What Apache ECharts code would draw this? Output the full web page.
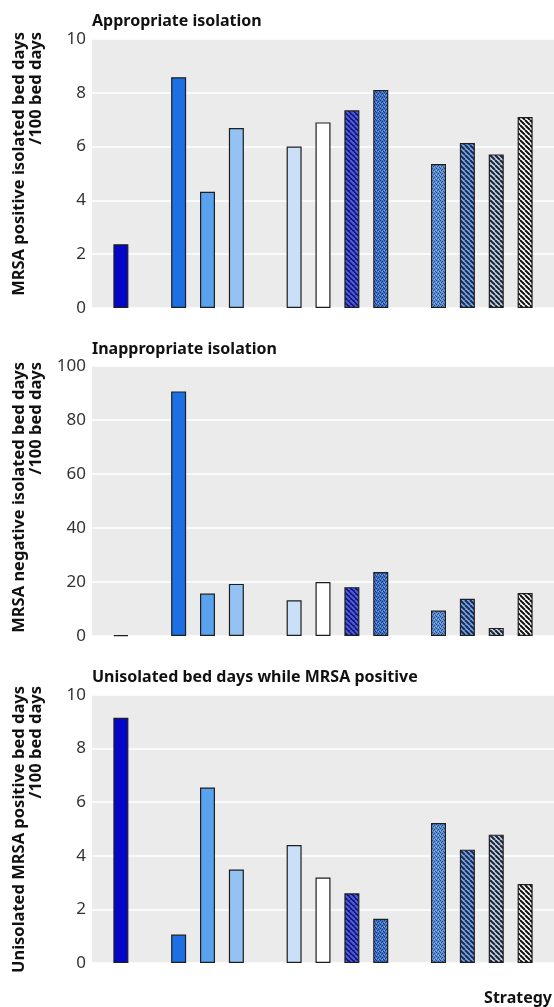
<!DOCTYPE html>
<html>
<head>
<meta charset="utf-8">
<script src="https://cdn.jsdelivr.net/npm/echarts@6/dist/echarts.min.js"></script>
<style>
html,body{margin:0;padding:0;background:#fff;}
#chart{width:554px;height:1007px;}
</style>
</head>
<body>
<div id="chart"></div>
<script>
// ---- data ----
const strategies = ['S1','S2','S3','S4','S5','S6','S7','S8','S9','S10','S11','S12'];
const appropriate = [2.37, 8.58, 4.32, 6.69, 6.00, 6.90, 7.35, 8.10, 5.35, 6.13, 5.71, 7.10];
const inappropriate = [0.3, 90.6, 15.7, 19.3, 13.2, 20.0, 18.1, 23.7, 9.4, 13.8, 3.0, 15.9];
const unisolated = [9.15, 1.06, 6.55, 3.49, 4.40, 3.19, 2.60, 1.65, 5.22, 4.23, 4.79, 2.95];
const panelTitles = ['Appropriate isolation', 'Inappropriate isolation', 'Unisolated bed days while MRSA positive'];
const yNames = [
  'MRSA positive isolated bed days\n/100 bed days',
  'MRSA negative isolated bed days\n/100 bed days',
  'Unisolated MRSA positive bed days\n/100 bed days'
];
const yMax = [10, 100, 10];
const yStep = [2, 20, 2];
const xAxisName = 'Strategy';

// ---- layout: strategy groups separated by empty slots ----
const groupSizes = [1, 3, 4, 4];
const slots = [];
(function(){
  let k = 0, g = 0;
  slots.push('gap' + (g++));
  groupSizes.forEach(n => {
    for (let i = 0; i < n; i++) slots.push(strategies[k++]);
    slots.push('gap' + (g++));
  });
})();

// ---- fills ----
function tile(size, draw) {
  const c = document.createElement('canvas');
  c.width = c.height = size;
  const ctx = c.getContext('2d');
  draw(ctx, size);
  return { image: c, repeat: 'repeat' };
}
function stripes(bg, fg, s, w) {
  return tile(s, (ctx) => {
    ctx.fillStyle = bg; ctx.fillRect(0, 0, s, s);
    ctx.strokeStyle = fg; ctx.lineWidth = w;
    for (let x0 = -s; x0 <= s; x0 += s) {
      ctx.beginPath(); ctx.moveTo(x0, 0); ctx.lineTo(x0 + s, s); ctx.stroke();
    }
  });
}
function stipple(bg, dark, light) {
  return tile(4, (ctx) => {
    ctx.fillStyle = bg; ctx.fillRect(0, 0, 4, 4);
    ctx.fillStyle = dark;
    [[0,0],[2,1],[1,2],[3,3]].forEach(p => ctx.fillRect(p[0], p[1], 1, 1));
    ctx.fillStyle = light;
    [[2,3],[0,2]].forEach(p => ctx.fillRect(p[0], p[1], 1, 1));
  });
}
const fills = [
  '#0606c8',
  '#1c70e4',
  '#59a2ee',
  '#93c2f3',
  '#c9e0f8',
  '#ffffff',
  stripes('#10107a', '#4f60d8', 5, 2),
  stipple('#3f74c8', '#1d3a78', '#7aa6e6'),
  stipple('#5d8fd4', '#2a4a80', '#8ab4ec'),
  stripes('#78aaea', '#1b2b55', 5, 2),
  stripes('#c4d6ee', '#1c2230', 5, 2),
  stripes('#ffffff', '#111111', 5, 2)
];

const series3 = [appropriate, inappropriate, unisolated];
const grids = [
  { left: 92, right: 0, top: 39, height: 269 },
  { left: 92, right: 0, top: 366, height: 270 },
  { left: 92, right: 0, top: 695, height: 268 }
];

function buildData(vals) {
  const map = {};
  strategies.forEach((s, i) => { map[s] = i; });
  return slots.map(name => {
    if (!(name in map)) return null;
    const i = map[name];
    return { value: vals[i], itemStyle: { color: fills[i] } };
  });
}

const font = '"Noto Sans", "DejaVu Sans", sans-serif';
const option = {
  animation: false,
  backgroundColor: '#ffffff',
  grid: grids.map(g => Object.assign({ show: true, backgroundColor: '#ebebeb', borderWidth: 0 }, g)),
  xAxis: grids.map((g, i) => ({
    type: 'category', gridIndex: i, data: slots, boundaryGap: false,
    axisLine: { show: false }, axisTick: { show: false }, axisLabel: { show: false },
    splitLine: { show: false }
  })),
  yAxis: grids.map((g, i) => ({
    type: 'value', gridIndex: i, min: 0, max: yMax[i], interval: yStep[i],
    axisLine: { show: false }, axisTick: { show: false },
    axisLabel: { color: '#333', fontSize: 17, fontFamily: font, margin: 6 },
    splitLine: { show: true, lineStyle: { color: '#ffffff', width: 1.5 } }
  })),
  series: series3.map((vals, i) => ({
    type: 'bar', xAxisIndex: i, yAxisIndex: i, barWidth: 15,
    itemStyle: { borderColor: '#1e1e1e', borderWidth: 1.2 },
    data: buildData(vals)
  })),
  graphic: [
    ...panelTitles.map((t, i) => ({
      type: 'text', x: 92, y: [21, 349, 677][i],
      style: { text: t, fontSize: 16, fontWeight: 'bold', fontFamily: font, fill: '#111', align: 'left', verticalAlign: 'middle' }
    })),
    ...yNames.map((t, i) => ({
      type: 'text', x: 28, y: [32, 362, 686][i], rotation: Math.PI / 2,
      style: { text: t, fontSize: 16.5, fontWeight: 'bold', fontFamily: font, fill: '#111', align: 'right', verticalAlign: 'middle', lineHeight: 17 }
    })),
    {
      type: 'text', x: 552, y: 998,
      style: { text: xAxisName, fontSize: 16, fontWeight: 'bold', fontFamily: font, fill: '#111', align: 'right', verticalAlign: 'middle' }
    }
  ]
};

const chart = echarts.init(document.getElementById('chart'), null, { renderer: 'canvas' });
chart.setOption(option);
</script>
</body>
</html>
